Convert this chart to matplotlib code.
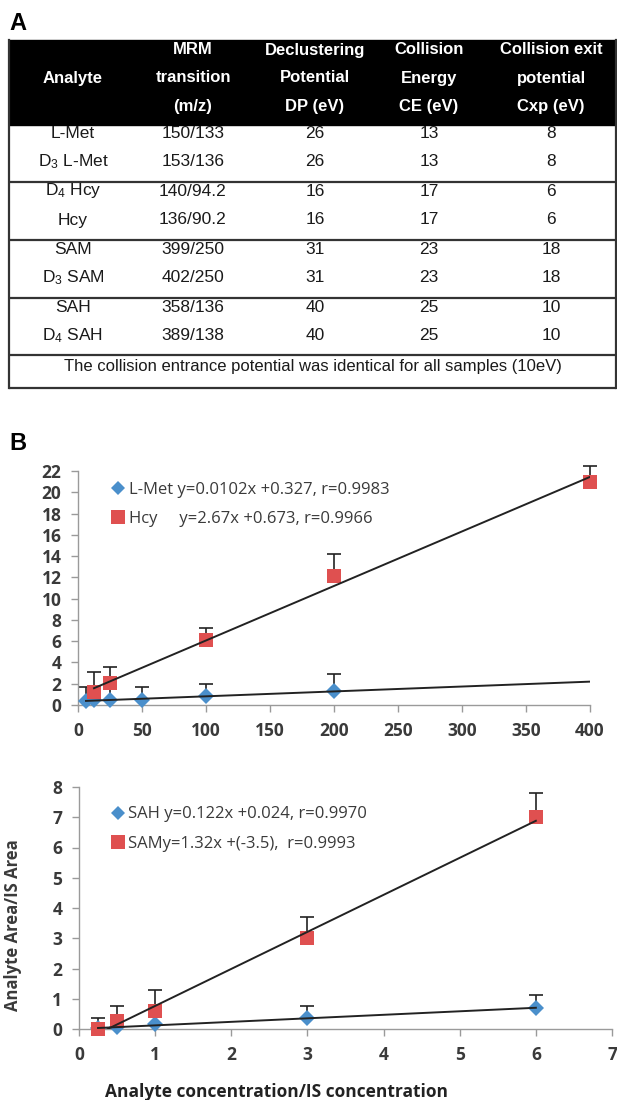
import matplotlib.pyplot as plt
import matplotlib
import numpy as np
from matplotlib.patches import Rectangle
from matplotlib.lines import Line2D

matplotlib.rcParams.update({'font.family': ['Open Sans', 'DejaVu Sans'],
                            'mathtext.fontset': 'custom',
                            'mathtext.rm': 'Liberation Sans',
                            'mathtext.it': 'Liberation Sans:italic',
                            'mathtext.bf': 'Liberation Sans:bold'})

# ---- table (panel A) ----
header_lines = [['', 'Analyte', ''],
                ['MRM', 'transition', '(m/z)'],
                ['Declustering', 'Potential', 'DP (eV)'],
                ['Collision', 'Energy', 'CE (eV)'],
                ['Collision exit', 'potential', 'Cxp (eV)']]
analytes = ['L-Met', r'D$_3$ L-Met', r'D$_4$ Hcy', 'Hcy', 'SAM', r'D$_3$ SAM', 'SAH', r'D$_4$ SAH']
transitions = ['150/133', '153/136', '140/94.2', '136/90.2', '399/250', '402/250', '358/136', '389/138']
dp = [26, 26, 16, 16, 31, 31, 40, 40]
ce = [13, 13, 17, 17, 23, 23, 25, 25]
cxp = [8, 8, 6, 6, 18, 18, 10, 10]
footnote = 'The collision entrance potential was identical for all samples (10eV)'

# ---- calibration data (panel B) ----
lmet_x = [6.25, 12.5, 25, 50, 100, 200]
lmet_y = [0.4, 0.45, 0.5, 0.5, 0.8, 1.3]
lmet_err = [1.3, 1.3, 1.0, 1.2, 1.2, 1.65]
hcy_x = [12.5, 25, 100, 200, 400]
hcy_y = [1.2, 2.1, 6.1, 12.1, 21.0]
hcy_err = [1.9, 1.5, 1.1, 2.1, 1.5]
lmet_label = 'L-Met y=0.0102x +0.327, r=0.9983'
hcy_label = 'Hcy     y=2.67x +0.673, r=0.9966'

sah_x = [0.25, 0.5, 1, 3, 6]
sah_y = [0.02, 0.05, 0.15, 0.35, 0.7]
sah_err = [0.15, 0.2, 0.3, 0.4, 0.42]
sam_x = [0.25, 0.5, 1, 3, 6]
sam_y = [0.0, 0.25, 0.6, 3.0, 7.0]
sam_err = [0.35, 0.5, 0.7, 0.7, 0.8]
sah_label = 'SAH y=0.122x +0.024, r=0.9970'
sam_label = 'SAMy=1.32x +(-3.5),  r=0.9993'

blue = '#4a8fcb'
red = '#df5050'
ink = '#3a3a3a'

fig = plt.figure(figsize=(6.17, 11), dpi=100)

# overlay in pixel coordinates for the table and panel letters
tax = fig.add_axes([0, 0, 1, 1])
tax.set_xlim(0, 617)
tax.set_ylim(1100, 0)
tax.axis('off')

tax.text(9, 24, 'A', fontsize=17, fontweight='bold', family='Liberation Sans', va='center', ha='left')
tax.text(9, 443, 'B', fontsize=17, fontweight='bold', family='Liberation Sans', va='center', ha='left')

left, right = 9, 616
tax.add_patch(Rectangle((left, 40), right - left, 85, color='black', zorder=1))
col_x = [73, 193, 315, 429, 551]
head_y = [50, 78, 106]
for cx, lines in zip(col_x, header_lines):
    for hy, s in zip(head_y, lines):
        tax.text(cx, hy, s, color='white', fontsize=12, fontweight='bold',
                 family='Liberation Sans', ha='center', va='center', zorder=2)

row_y0, row_dy, grp_dy = 133, 29, 58
for i in range(len(analytes)):
    ry = row_y0 + (i // 2) * grp_dy + (i % 2) * row_dy
    vals = [analytes[i], transitions[i], str(dp[i]), str(ce[i]), str(cxp[i])]
    for cx, s in zip(col_x, vals):
        tax.text(cx, ry, s, fontsize=12.5, family='Liberation Sans', color='#1a1a1a',
                 ha='center', va='center')

for ly in [182, 240, 298, 355, 388]:
    tax.plot([left, right], [ly, ly], color='#333333', lw=1.6, solid_capstyle='butt')
tax.plot([left, left], [40, 388], color='#333333', lw=1.6)
tax.plot([right, right], [40, 388], color='#333333', lw=1.6)
tax.text((left + right) / 2, 366, footnote, fontsize=12, family='Liberation Sans',
         color='#1a1a1a', ha='center', va='center')


def style(ax):
    for s in ['top', 'right']:
        ax.spines[s].set_visible(False)
    for s in ['left', 'bottom']:
        ax.spines[s].set_color('#9a9a9a')
        ax.spines[s].set_linewidth(1.0)
    ax.tick_params(color='#9a9a9a', length=5, width=1, labelsize=12.5,
                   labelcolor=ink, pad=7)
    for lab in ax.get_xticklabels() + ax.get_yticklabels():
        lab.set_fontweight('bold')


def series(ax, x, y, err, color, marker, ms, xmax):
    x = np.array(x, dtype=float)
    y = np.array(y, dtype=float)
    ax.errorbar(x, y, yerr=[np.zeros_like(y), err], fmt='none', ecolor='#222222',
                elinewidth=1.2, capsize=5, capthick=1.2, zorder=2, clip_on=False)
    ax.plot(x, y, linestyle='none', marker=marker, ms=ms, color=color,
            markeredgewidth=0, zorder=3, clip_on=False)
    k, b = np.polyfit(x, y, 1)
    xx = np.array([x.min(), xmax])
    ax.plot(xx, k * xx + b, color='#222222', lw=1.4, zorder=4)


legend_kw = dict(loc='upper left', frameon=False, fontsize=12, handlelength=0.8,
                 handletextpad=0.25, labelspacing=0.8, borderpad=0, borderaxespad=0,
                 labelcolor=ink)

# top calibration plot
ax1 = fig.add_axes([78 / 617, 1 - 705 / 1100, 512 / 617, 234 / 1100])
x1_ticks = np.arange(0, 401, 50)
y1_ticks = np.arange(0, 23, 2)
series(ax1, lmet_x, lmet_y, lmet_err, blue, 'D', 8, x1_ticks[-1])
series(ax1, hcy_x, hcy_y, hcy_err, red, 's', 10, x1_ticks[-1])
ax1.set_xlim(0, x1_ticks[-1])
ax1.set_ylim(0, y1_ticks[-1])
ax1.set_xticks(x1_ticks)
ax1.set_yticks(y1_ticks)
style(ax1)
h1 = [Line2D([], [], ls='none', marker='D', ms=7, color=blue, mew=0),
      Line2D([], [], ls='none', marker='s', ms=10, color=red, mew=0)]
ax1.legend(h1, [lmet_label, hcy_label], bbox_to_anchor=(0.065, 0.953), **legend_kw)

# bottom calibration plot
ax2 = fig.add_axes([79 / 617, 1 - 1029 / 1100, 533 / 617, 242 / 1100])
x2_ticks = np.arange(0, 8, 1)
y2_ticks = np.arange(0, 9, 1)
series(ax2, sah_x, sah_y, sah_err, blue, 'D', 8, max(sah_x))
series(ax2, sam_x, sam_y, sam_err, red, 's', 10, max(sam_x))
ax2.set_xlim(0, x2_ticks[-1])
ax2.set_ylim(0, y2_ticks[-1])
ax2.set_xticks(x2_ticks)
ax2.set_yticks(y2_ticks)
style(ax2)
h2 = [Line2D([], [], ls='none', marker='D', ms=7, color=blue, mew=0),
      Line2D([], [], ls='none', marker='s', ms=10, color=red, mew=0)]
ax2.legend(h2, [sah_label, sam_label], bbox_to_anchor=(0.06, 0.92), **legend_kw)
ax2.set_ylabel('Analyte Area/IS Area', fontsize=12, fontweight='bold', color=ink)
ax2.yaxis.set_label_coords(-0.107, 0.43)
ax2.set_xlabel('Analyte concentration/IS concentration', fontsize=12.5, fontweight='bold',
               color='#222222', va='center')
ax2.xaxis.set_label_coords(0.37, -0.26)

fig.savefig('out.png', dpi=100)
